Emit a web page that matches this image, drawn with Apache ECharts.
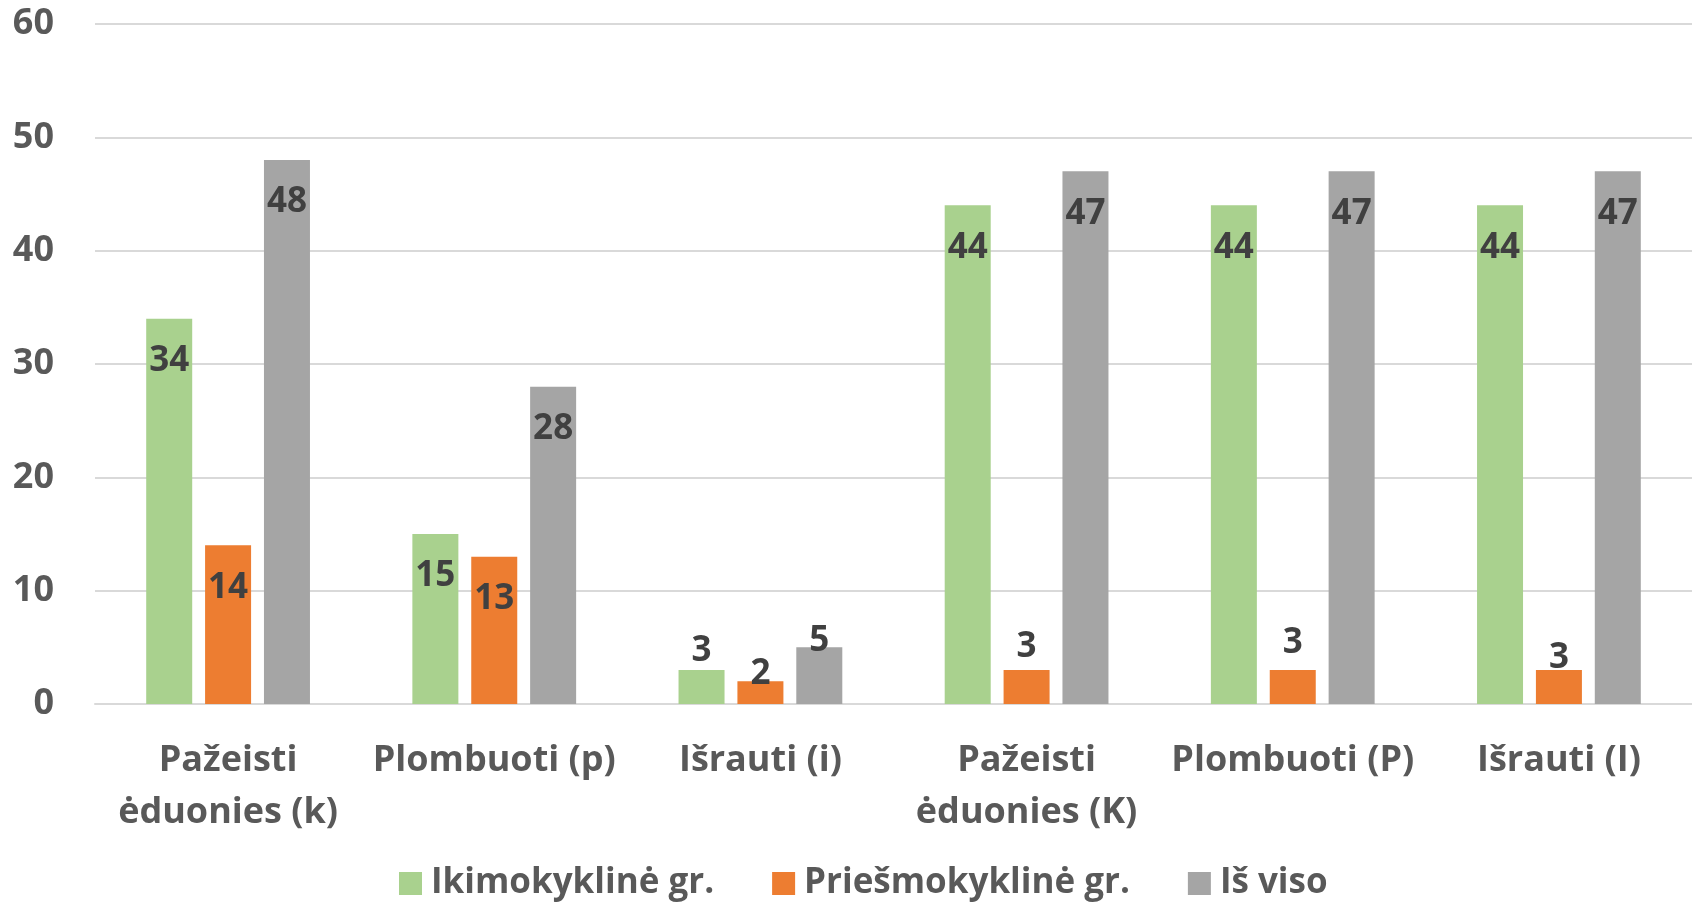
<!DOCTYPE html>
<html>
<head>
<meta charset="utf-8">
<script src="https://cdn.jsdelivr.net/npm/echarts@6/dist/echarts.min.js"></script>
<style>
  html, body { margin: 0; padding: 0; background: #fff; }
  #chart { width: 1692px; height: 907px; }
</style>
</head>
<body>
<div id="chart"></div>
<script>
// chart data
var categories = [
  "Pažeisti\nėduonies (k)",
  "Plombuoti (p)",
  "Išrauti (i)",
  "Pažeisti\nėduonies (K)",
  "Plombuoti (P)",
  "Išrauti (I)"
];
var seriesNames = ["Ikimokyklinė gr.", "Priešmokyklinė gr.", "Iš viso"];
var ikimokykline = [34, 15, 3, 44, 44, 44];
var priesmokykline = [14, 13, 2, 3, 3, 3];
var isViso = [48, 28, 5, 47, 47, 47];

var colors = ["#A9D18E", "#ED7D31", "#A5A5A5"];

// labels that sit above short bars (hand placed in the original)
var aboveShift = [
  [null, null, -1, null, null, null],
  [null, null, 10, -5, -9, 6],
  [null, null, 11, null, null, null]
];

var font = "'Open Sans', Lato, sans-serif";

function buildSeries(name, values, idx) {
  return {
    name: name,
    type: "bar",
    barWidth: 46,
    barGap: "28%",
    itemStyle: { color: colors[idx] },
    label: {
      show: true,
      position: "insideTop",
      distance: 25,
      color: "#404040",
      fontFamily: font,
      fontWeight: "bold",
      fontSize: 35
    },
    data: values.map(function (v, i) {
      var s = aboveShift[idx][i];
      if (s === null) return v;
      return {
        value: v,
        label: { position: "top", distance: 0, offset: [0, s] }
      };
    })
  };
}

var myChart = echarts.init(document.getElementById("chart"));
var option = {
  animation: false,
  grid: { left: 95, right: 0, top: 24, bottom: 203 },
  legend: {
    bottom: 1,
    left: 394,
    itemWidth: 23,
    itemHeight: 23,
    itemGap: 58,
    icon: "rect",
    textStyle: {
      color: "#595959",
      fontFamily: font,
      fontWeight: "bold",
      fontSize: 35,
      padding: [0, 0, 0, 4]
    },
    data: seriesNames
  },
  xAxis: {
    type: "category",
    data: categories,
    axisLine: { lineStyle: { color: "#D9D9D9", width: 2 } },
    axisTick: { show: false },
    axisLabel: {
      interval: 0,
      margin: 31,
      color: "#595959",
      fontFamily: font,
      fontWeight: "bold",
      fontSize: 36,
      lineHeight: 52
    }
  },
  yAxis: {
    type: "value",
    min: 0,
    max: 60,
    interval: 10,
    axisLine: { show: false },
    axisTick: { show: false },
    splitLine: { lineStyle: { color: "#D9D9D9", width: 2 } },
    axisLabel: {
      margin: 41,
      color: "#595959",
      fontFamily: font,
      fontWeight: "bold",
      fontSize: 36
    }
  },
  series: [
    buildSeries(seriesNames[0], ikimokykline, 0),
    buildSeries(seriesNames[1], priesmokykline, 1),
    buildSeries(seriesNames[2], isViso, 2)
  ]
};
myChart.setOption(option);
</script>
</body>
</html>
